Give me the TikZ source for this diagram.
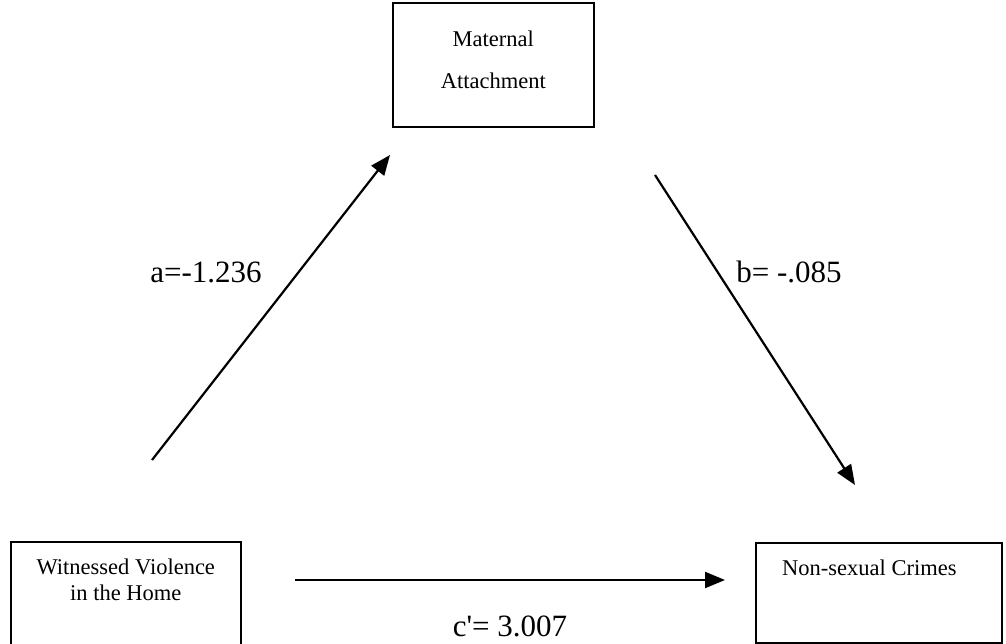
\documentclass[tikz,border=0pt]{standalone}
\usepackage{fontspec}
\setmainfont{Liberation Serif}
\newfontfamily\coeffont{Liberation Serif}
\usetikzlibrary{arrows.meta,positioning}
\begin{document}
\begin{tikzpicture}[x=1pt,y=-1pt,
    var/.style = {draw, line width=1.6pt, anchor=north west, inner sep=0pt},
    vartext/.style = {align=center, font=\fontsize{22.5}{26}\selectfont, inner sep=0pt},
    effect/.style = {line width=2.2pt, -{Triangle[length=20pt,width=16pt]}},
    coef/.style = {font=\coeffont\fontsize{31}{36}\selectfont, inner sep=0pt}
  ]
  \useasboundingbox (0,0) rectangle (1006,644);
  % variables
  \node[var, minimum width=201pt, minimum height=124pt] (mat) at (392,2) {};
  \node[vartext, font=\fontsize{22.5}{42}\selectfont, below=29pt of mat.north] (matlbl) {Maternal\\Attachment};
  \node[var, minimum width=230pt, minimum height=106pt] (wit) at (10,541) {};
  \node[vartext, below=18pt of wit.north] (witlbl) {Witnessed Violence\\in the Home};
  \node[var, minimum width=246pt, minimum height=100pt] (crime) at (755,542) {};
  \node[vartext, anchor=west] (crimelbl) at ([xshift=27pt,yshift=-26pt]crime.north west) {Non-sexual Crimes};
  % paths
  \coordinate (a0) at (152,460);
  \coordinate (a1) at (390,155);
  \coordinate (b0) at (655,175);
  \coordinate (b1) at (855,485);
  \coordinate (c0) at (295,580);
  \coordinate (c1) at (725,580);
  \draw[effect] (a0) -- (a1);
  \draw[effect] (b0) -- (b1);
  \draw[effect] (c0) -- (c1);
  \node[coef] (alab) at (206,272) {a=-1.236};
  \node[coef] (blab) at (789,272) {b= -.085};
  \node[coef] (clab) at (510,626) {c'= 3.007};
\end{tikzpicture}
\end{document}
